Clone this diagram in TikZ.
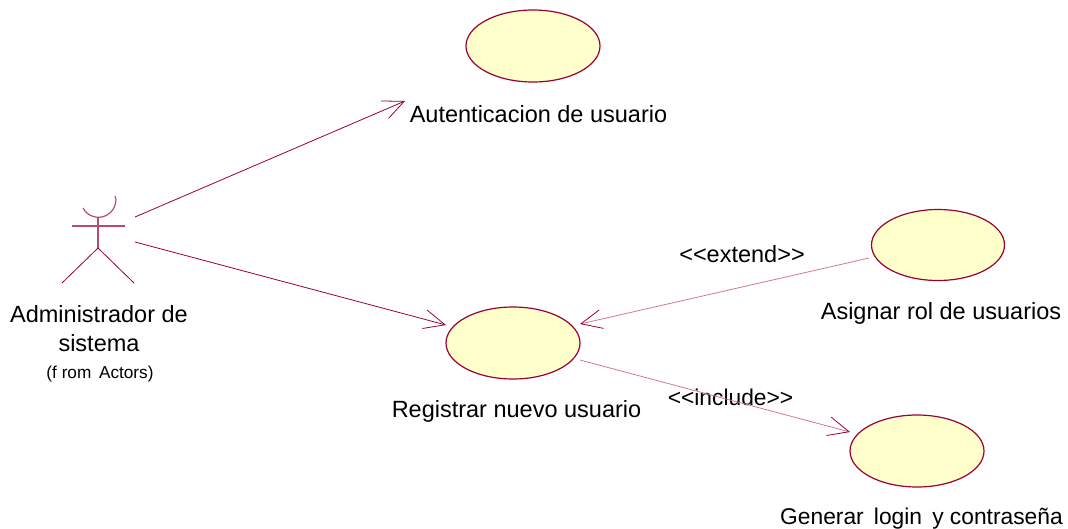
\documentclass[tikz,border=0pt]{standalone}
\usepackage{fontspec}
\setmainfont{Liberation Sans}
\usetikzlibrary{shapes.geometric,arrows.meta,positioning}
\definecolor{umlline}{RGB}{153,0,51}
\definecolor{umlsoft}{RGB}{208,120,150}
\definecolor{umlfill}{RGB}{255,255,204}
\tikzset{
  x=1pt,y=-1pt,
  usecase/.style={ellipse,draw=umlline,fill=umlfill,line width=1.2pt,inner sep=0pt},
  lbl/.style={font=\fontsize{23.5}{29.5}\selectfont,inner sep=0pt,align=center},
  lblsmall/.style={font=\fontsize{22.8}{28}\selectfont,inner sep=0pt,align=center},
  assoc/.style={draw=umlline,line width=0.8pt,-{Straight Barb[length=21pt,width=19pt,line width=0.8pt]}},
  dep/.style={draw=umlsoft,line width=0.8pt,-{Straight Barb[length=21pt,width=19pt,line width=0.8pt,color=umlline]}},
  actorline/.style={draw=umlline,line width=0.8pt},
  actorsoft/.style={draw=umlline!70,line width=1.2pt}
}
\begin{document}
\begin{tikzpicture}
\useasboundingbox (0,0) rectangle (1068,528);
\node[usecase,minimum width=134pt,minimum height=72pt] (auth) at (533,46) {};
\node[usecase,minimum width=134pt,minimum height=72pt] (reg) at (513,343) {};
\node[usecase,minimum width=133pt,minimum height=71pt] (rol) at (938,245) {};
\node[usecase,minimum width=134pt,minimum height=72pt] (gen) at (917,451) {};
\node[lbl] (tauth) at (538.5,114) {Autenticacion de usuario};
\node[lbl] (treg) at (516.5,411) {Registrar nuevo usuario};
\node[lbl] (trol) at (941,313) {Asignar rol de usuarios};
\node[lblsmall] (tgen) at (921.5,519) {Generar\, login\, y contraseña};
\node[lbl] (tadm) at (99,328.5) {Administrador de\\sistema};
\node[font=\fontsize{17.2}{20}\selectfont,inner sep=0pt] (tfrom) at (100,374) {(f rom\, Actors)};
\node[lbl] (text) at (742,254) {<{}<extend>{}>};
\node[lblsmall] (tinc) at (730.5,397) {<{}<include>{}>};
\coordinate (a1) at (135,217);
\coordinate (a2) at (135,242);
\coordinate (a3) at (405,101);
\coordinate (a4) at (446,325);
\coordinate (r1) at (869,258);
\coordinate (r2) at (580,324);
\coordinate (g1) at (580,360);
\coordinate (g2) at (850,432);
\draw[assoc] (a1) -- (a3);
\draw[assoc] (a2) -- (a4);
\draw[dep] (r1) -- (r2);
\draw[dep] (g1) -- (g2);
\draw[actorsoft] (83,208) arc[start angle=208,end angle=360,radius=17.5pt] -- (115,196);
\draw[actorsoft] (98,218) -- (98,248);
\draw[actorsoft] (72,226) -- (125,226);
\draw[actorline] (62,283) -- (98,248) -- (134,283);
\end{tikzpicture}
\end{document}
